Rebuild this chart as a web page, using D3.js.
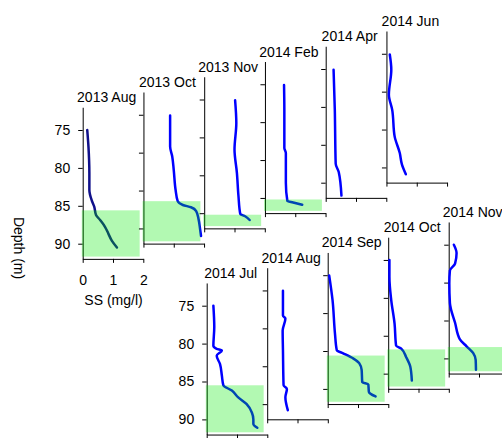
<!DOCTYPE html>
<html>
<head>
<meta charset="utf-8">
<script src="https://cdn.jsdelivr.net/npm/d3@7"></script>
<style>
  body { margin: 0; background: #fff; }
  svg { display: block; font-family: "Liberation Sans", Arial, sans-serif; }
</style>
</head>
<body>
<svg></svg>
<script>
let w = 502;
let h = 438;

// panel titles and depth of the green (near-bed) layer, null = none
const months = ['2013 Aug', '2013 Oct', '2013 Nov', '2014 Feb', '2014 Apr', '2014 Jun',
                '2014 Jul', '2014 Aug', '2014 Sep', '2014 Oct', '2014 Nov'];
const bedTop = [85.6, 86.4, 90.2, 90.2, null, null, 85.5, null, 85.6, 86.8, 88.5];

const depthTicks = [75, 80, 85, 90];
const ssTicks = [0, 1, 2];

// SS profiles (mg/l) against depth (m)
const aug13SS = [0.15, 0.19, 0.22, 0.22, 0.30, 0.38, 0.44, 0.58, 0.74, 0.85, 0.96, 1.13];
const aug13D  = [75, 77.2, 80.7, 82.9, 84.3, 85.1, 86.2, 86.9, 87.8, 88.7, 89.6, 90.5];
const oct13SS = [0.88, 0.88, 0.95, 1.0, 1.06, 1.13, 1.3, 1.57, 1.74, 1.82, 1.87, 1.9];
const oct13D  = [75.1, 79.2, 80.5, 82.3, 84.9, 86.4, 86.9, 87.2, 87.7, 88.8, 90.1, 91.0];
const nov13SS = [1.02, 1.06, 1.0, 1.08, 1.13, 1.19, 1.35, 1.5];
const nov13D  = [75.1, 78.1, 81.6, 84.7, 87.7, 90.1, 90.4, 90.9];
const feb14SS = [0.63, 0.64, 0.64, 0.69, 0.69, 0.74, 0.93, 1.23];
const feb14D  = [75.1, 78.4, 83.4, 84.1, 88.0, 90.4, 90.6, 90.9];
const apr14SS = [0.26, 0.30, 0.33, 0.43, 0.52];
const apr14D  = [75.1, 80.3, 87.5, 88.6, 91.7];
const jun14SS = [0.11, 0.16, 0.08, 0.19, 0.27, 0.44, 0.51, 0.64];
const jun14D  = [75.1, 77.1, 80.4, 82.4, 85.9, 88.1, 89.6, 90.9];
const jul14SS = [0.22, 0.25, 0.22, 0.33, 0.5, 0.33, 0.44, 0.5, 0.55, 0.83, 1.04, 1.32, 1.49, 1.54, 1.54, 1.67];
const jul14D  = [75, 77.8, 80.3, 80.7, 80.9, 81.6, 82.7, 84.2, 85.5, 86.2, 87.1, 88.0, 89.1, 90.0, 90.6, 91.1];
const aug14SS = [0.52, 0.52, 0.6, 0.51, 0.52, 0.54, 0.65, 0.6, 0.68];
const aug14D  = [75.05, 78.3, 78.7, 80.3, 82.9, 87.5, 88.0, 89.1, 90.8];
const sep14SS = [0.05, 0.16, 0.24, 0.30, 0.51, 0.85, 1.04, 1.12, 1.14, 1.34, 1.36, 1.58];
const sep14D  = [75.05, 78.3, 82.7, 84.9, 85.3, 86.0, 86.6, 87.5, 89.1, 89.4, 90.4, 91.0];
const oct14SS = [0.04, 0.04, 0.10, 0.21, 0.26, 0.43, 0.59, 0.73, 0.78];
const oct14D  = [75, 77.2, 80.3, 83.4, 86.3, 86.7, 87.8, 89.1, 90.9];
const nov14SS = [0.17, 0.26, 0.21, 0.04, 0.02, 0.04, 0.21, 0.37, 0.59, 0.81, 0.89, 0.90];
const nov14D  = [75, 76.1, 77.5, 78.4, 80.1, 82.7, 85.3, 87.5, 88.4, 89.3, 90.2, 91.5];

const profiles = [
  [aug13SS, aug13D], [oct13SS, oct13D], [nov13SS, nov13D], [feb14SS, feb14D],
  [apr14SS, apr14D], [jun14SS, jun14D], [jul14SS, jul14D], [aug14SS, aug14D],
  [sep14SS, sep14D], [oct14SS, oct14D], [nov14SS, nov14D]
];

const svg = d3.select('svg')
  .attr('width', w)
  .attr('height', h)

// Scales (shared by every panel, panels are just translated)
const yScale = d3.scaleLinear()
  .domain([72, 92])
  .range([0, 151.6])

const xScale = d3.scaleLinear()
  .domain([0, 2])
  .range([0, 60.6])

// cascading layout: top row 6 panels, bottom row 5 starting under the 3rd
function panelPos(i) {
  if (i < 6) return [82.7 + 60.75 * i, 130 - 15.25 * i];
  const j = i - 6;
  return [206.7 + 60.5 * j, 305.7 - 15.25 * j];
}

const line = d3.line()
  .x(d => xScale(d[0]))
  .y(d => yScale(d[1]))
  .curve(d3.curveMonotoneY)

months.forEach((m, i) => {
  const [x0, y75] = panelPos(i);
  const g = svg.append('g')
    .attr('transform', 'translate(' + x0 + ',' + (y75 - yScale(75)) + ')')

  const showLabels = (i === 0 || i === 6);

  // Axes
  const yAxis = d3.axisLeft(yScale)
    .tickValues(depthTicks)
    .tickSize(4.5)
    .tickSizeOuter(0)
    .tickPadding(8)
    .tickFormat(d => showLabels ? d : '')

  g.append('g').attr('class', 'axis').call(yAxis)

  const xAxis = d3.axisBottom(xScale)
    .tickValues(ssTicks)
    .tickSize(4)
    .tickSizeOuter(0)
    .tickPadding(12)
    .tickFormat(d => i === 0 ? d : '')

  g.append('g').attr('class', 'axis')
    .attr('transform', 'translate(0,' + yScale(92) + ')')
    .call(xAxis)

  // Title
  g.append('text')
    .attr('x', xScale(0.79))
    .attr('y', -5)
    .attr('text-anchor', 'middle')
    .attr('font-size', 14)
    .attr('fill', '#000')
    .text(m)

  // Profile
  const pts = profiles[i][0].map((v, k) => [v, profiles[i][1][k]]);
  g.append('path')
    .datum(pts)
    .attr('d', line)
    .attr('fill', 'none')
    .attr('stroke', i === 0 ? '#10108a' : '#0000ff')
    .attr('stroke-width', 2.5)
    .attr('stroke-linejoin', 'round')
    .attr('stroke-linecap', 'round')

  // near-bed layer, drawn translucent on top
  if (bedTop[i] !== null) {
    g.append('rect')
      .attr('x', xScale(-0.03))
      .attr('y', yScale(bedTop[i]))
      .attr('width', xScale(1.88) - xScale(-0.03))
      .attr('height', yScale(91.7) - yScale(bedTop[i]))
      .attr('fill', 'rgb(0,235,0)')
      .attr('fill-opacity', 0.3)
  }
})

svg.selectAll('.axis text')
  .attr('font-size', 14)
  .attr('font-family', '"Liberation Sans", Arial, sans-serif')
  .attr('fill', '#000')
svg.selectAll('.axis path, .axis line')
  .attr('stroke', '#000')

// axis titles
svg.append('text')
  .attr('transform', 'translate(14,248) rotate(90)')
  .attr('text-anchor', 'middle')
  .attr('font-size', 14)
  .text('Depth (m)')

svg.append('text')
  .attr('x', 113.5)
  .attr('y', 305)
  .attr('text-anchor', 'middle')
  .attr('font-size', 14)
  .text('SS (mg/l)')
</script>
</body>
</html>
